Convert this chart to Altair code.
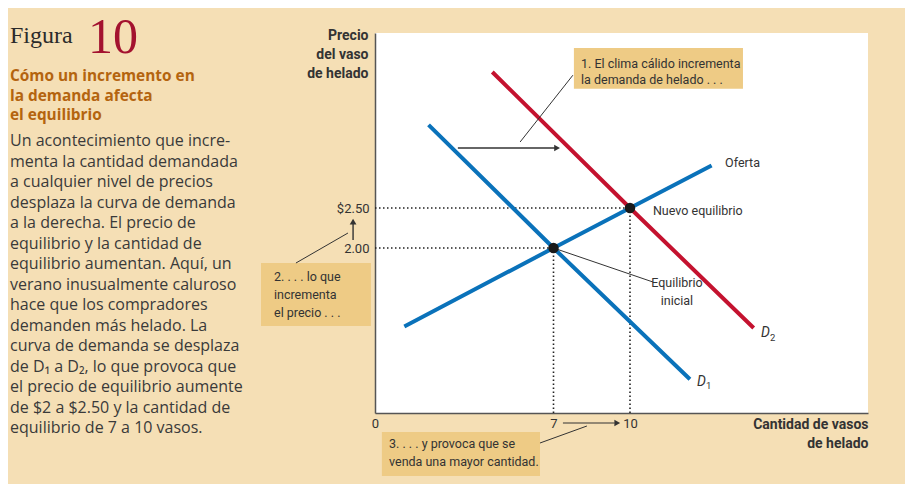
import altair as alt
import pandas as pd

# ---------------- data ----------------
supply_q = [1.15, 7, 10, 13.2]
supply_p = [1.02, 2.0, 2.5, 3.03]
d1_q = [2.1, 7, 12.35]
d1_p = [3.54, 2.0, 0.36]
d2_q = [4.6, 10, 14.85]
d2_p = [4.2, 2.5, 1.0]
eq_q = [7, 10]
eq_p = [2.0, 2.5]
x_ticks = [0, 7, 10]
y_ticks = [2.0, 2.5]

BG = "#F5DFB5"
BOX = "#EECB85"
BLUE = "#0A72BA"
RED = "#C4122F"
DARK = "#333333"
NARROW = "Roboto"

XMAX = 19.333
YMIN, YMAX = -0.0625, 4.6875

xs = alt.Scale(domain=[0, XMAX], nice=False, zero=False)
ys = alt.Scale(domain=[YMIN, YMAX], nice=False, zero=False)

rows = []
for name, qs, ps in [("Oferta", supply_q, supply_p), ("D1", d1_q, d1_p), ("D2", d2_q, d2_p)]:
    for i, (q, p) in enumerate(zip(qs, ps)):
        rows.append({"serie": name, "q": q, "p": p, "i": i})
curves = pd.DataFrame(rows)

xaxis = alt.Axis(values=x_ticks, ticks=False, grid=False, domainColor="#555", domainWidth=1.5,
                 labelFont=NARROW, labelFontSize=13, labelColor=DARK, labelFlush=False,
                 labelPadding=4,
                 title=["Cantidad de vasos", "de helado"], titleFont=NARROW, titleFontSize=14,
                 titleFontWeight="bold", titleColor=DARK, titleAlign="right", titleAnchor="end",
                 titleX=493, titleY=15, titleBaseline="alphabetic", titleLineHeight=19)
yaxis = alt.Axis(values=y_ticks, ticks=False, grid=False, domainColor="#555", domainWidth=1.5,
                 labelFont=NARROW, labelFontSize=13, labelColor=DARK, labelPadding=6,
                 labelExpr="datum.value == 2.5 ? '$2.50' : '2.00'",
                 title=["Precio", "del vaso", "de helado"], titleFont=NARROW, titleFontSize=14,
                 titleFontWeight="bold", titleColor=DARK, titleAngle=0, titleAlign="right",
                 titleX=-7, titleY=6, titleBaseline="alphabetic", titleLineHeight=19)

# dotted guide lines
guides = pd.DataFrame({
    "x": [0, 0, 7, 10], "x2": [7, 10, 7, 10],
    "y": [2.0, 2.5, YMIN, YMIN], "y2": [2.0, 2.5, 2.0, 2.5],
})
guide_layer = alt.Chart(guides).mark_rule(color="#222", strokeDash=[1.5, 2.5], strokeWidth=1.6).encode(
    x=alt.X("x:Q", scale=xs, axis=xaxis), x2="x2:Q",
    y=alt.Y("y:Q", scale=ys, axis=yaxis), y2="y2:Q",
)

# annotation boxes
boxes = pd.DataFrame({
    "x": [7.8, -4.47, 0.27], "x2": [14.43, -0.16, 6.47],
    "y": [4.5, 1.8125, -0.3], "y2": [3.99, 1.025, -0.85],
})
box_layer = alt.Chart(boxes).mark_rect(color=BOX).encode(
    x=alt.X("x:Q", scale=xs), x2="x2:Q", y=alt.Y("y:Q", scale=ys), y2="y2:Q")

# thin connector / arrow lines
connectors = pd.DataFrame({
    "x": [3.25, 5.69, -3.1, -0.86, 6.47, 7.37, 7.0],
    "x2": [7.1, 7.76, -1.06, -0.86, 8.31, 9.4, 10.9],
    "y": [3.25, 3.325, 1.8125, 2.1, -0.4375, -0.1875, 2.0],
    "y2": [3.25, 4.16, 2.1875, 2.3, -0.225, -0.1875, 1.575],
    "w": [1.4, 1.0, 1.0, 1.4, 1.0, 1.2, 1.0],
})
conn_layer = alt.Chart(connectors).mark_rule(color=DARK).encode(
    x=alt.X("x:Q", scale=xs), x2="x2:Q", y=alt.Y("y:Q", scale=ys), y2="y2:Q",
    strokeWidth=alt.StrokeWidth("w:Q", scale=None))

heads = pd.DataFrame({
    "x": [7.14, -0.86, 9.5], "y": [3.25, 2.33, -0.1875],
    "shape": ["triangle-right", "triangle-up", "triangle-right"],
})
head_layer = alt.Chart(heads).mark_point(filled=True, color=DARK, opacity=1, size=45).encode(
    x=alt.X("x:Q", scale=xs), y=alt.Y("y:Q", scale=ys),
    shape=alt.Shape("shape:N", scale=None))

line_layer = alt.Chart(curves).mark_line(strokeWidth=4, strokeCap="butt").encode(
    x=alt.X("q:Q", scale=xs), y=alt.Y("p:Q", scale=ys),
    color=alt.Color("serie:N", scale=alt.Scale(domain=["Oferta", "D1", "D2"], range=[BLUE, BLUE, RED]), legend=None),
    detail="serie:N", order="i:Q")

eq = pd.DataFrame({"q": eq_q, "p": eq_p})
point_layer = alt.Chart(eq).mark_circle(color="#1a1a1a", opacity=1, size=110).encode(
    x=alt.X("q:Q", scale=xs), y=alt.Y("p:Q", scale=ys))

# texts inside / near the plot (data coordinates)
labels = pd.DataFrame({
    "x": [8.08, 8.08, -3.96, -3.96, -3.96, 0.55, 0.55, 13.73, 10.9, 11.84, 11.84],
    "y": [4.25, 4.05, 1.5875, 1.3625, 1.1375, -0.5, -0.725, 3.06, 2.4625, 1.5625, 1.3375],
    "t": ["1. El clima cálido incrementa", "la demanda de helado . . .",
          "2. . . . lo que", "incrementa", "el precio . . .",
          "3. . . . y provoca que se", "venda una mayor cantidad.",
          "Oferta", "Nuevo equilibrio", "Equilibrio", "inicial"],
    "a": ["left"] * 9 + ["center", "center"],
    "b": ["alphabetic"] * 7 + ["middle"] * 4,
})
label_layers = []
for (a, b), sub in labels.groupby(["a", "b"]):
    label_layers.append(alt.Chart(sub).mark_text(align=a, baseline=b, font=NARROW, fontSize=12.5, color=DARK).encode(
        x=alt.X("x:Q", scale=xs), y=alt.Y("y:Q", scale=ys), text="t:N"))

dlab = pd.DataFrame({"x": [12.63, 15.14], "y": [0.325, 0.9375], "t": ["D", "D"]})
dsub = pd.DataFrame({"x": [12.98, 15.49], "y": [0.27, 0.88], "t": ["1", "2"]})
d_layer = alt.Chart(dlab).mark_text(align="left", baseline="middle", font=NARROW, fontSize=14,
                                    fontStyle="italic", color=DARK).encode(
    x=alt.X("x:Q", scale=xs), y=alt.Y("y:Q", scale=ys), text="t:N")
dsub_layer = alt.Chart(dsub).mark_text(align="left", baseline="middle", font=NARROW, fontSize=9.5,
                                       color=DARK).encode(
    x=alt.X("x:Q", scale=xs), y=alt.Y("y:Q", scale=ys), text="t:N")

# left panel texts (pixel positions relative to the plot origin)
one = pd.DataFrame({"k": [0]})
title_lines = ["Cómo un incremento en", "la demanda afecta", "el equilibrio"]
body_lines = [
    "Un acontecimiento que incre-",
    "menta la cantidad demandada",
    "a cualquier nivel de precios",
    "desplaza la curva de demanda",
    "a la derecha. El precio de",
    "equilibrio y la cantidad de",
    "equilibrio aumentan. Aquí, un",
    "verano inusualmente caluroso",
    "hace que los compradores",
    "demanden más helado. La",
    "curva de demanda se desplaza",
    "de D₁ a D₂, lo que provoca que",
    "el precio de equilibrio aumente",
    "de $2 a $2.50 y la cantidad de",
    "equilibrio de 7 a 10 vasos.",
]
fig_word = alt.Chart(one).mark_text(text="Figura", align="left", baseline="alphabetic",
                                    font="Liberation Serif", fontSize=24, color="#2b2b2b").encode(
    x=alt.value(-365), y=alt.value(10))
fig_num = alt.Chart(one).mark_text(text="10", align="left", baseline="alphabetic",
                                   font="Liberation Serif", fontSize=50, color="#A3122F").encode(
    x=alt.value(-287), y=alt.value(20))
title_txt = alt.Chart(one).mark_text(text=title_lines, align="left", baseline="alphabetic",
                                     font="Open Sans", fontSize=15.4, fontWeight="bold",
                                     color="#B4640F", lineHeight=19.5).encode(
    x=alt.value(-365), y=alt.value(48))
body_txt = alt.Chart(one).mark_text(text=body_lines, align="left", baseline="alphabetic",
                                    font="Open Sans", fontSize=16, color="#3a3a3a",
                                    lineHeight=20.5).encode(
    x=alt.value(-365), y=alt.value(113))

chart = alt.layer(
    guide_layer, box_layer, line_layer, conn_layer, head_layer, point_layer,
    *label_layers, d_layer, dsub_layer,
    fig_word, fig_num, title_txt, body_txt,
).properties(
    width=493, height=380,
    padding={"left": 367, "top": 25, "right": 37, "bottom": 71},
    autosize=alt.AutoSizeParams(type="none"),
    background=BG,
).configure_view(fill="white", stroke=None)

chart.save("out.html", embed_options={"renderer": "svg", "actions": False})
